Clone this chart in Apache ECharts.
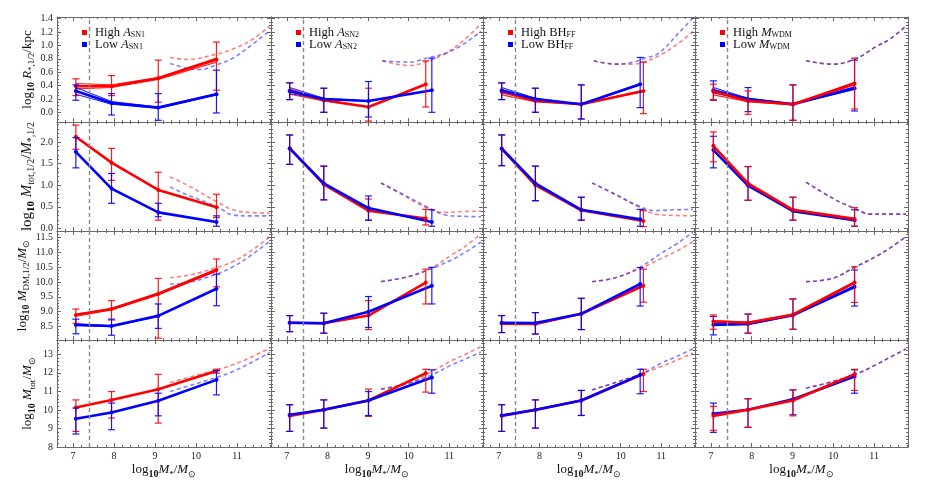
<!DOCTYPE html>
<html><head><meta charset="utf-8">
<script src="https://cdn.jsdelivr.net/npm/echarts@6/dist/echarts.min.js"></script>
<style>html,body{margin:0;padding:0;background:#fff}#c{width:927px;height:493px}</style>
</head><body><div id="c"></div><script>
// ---------------- DATA ----------------
const xTicks = [7, 8, 9, 10, 11];
const sizeTicks = [0, 0.2, 0.4, 0.6, 0.8, 1.0, 1.2, 1.4];
const ratioTicks = [0, 0.5, 1.0, 1.5, 2.0];
const dmTicks = [8.5, 9, 9.5, 10, 10.5, 11, 11.5];
const totTicks = [8, 9, 10, 11, 12, 13];
const resolutionLimit = [7.4];

const highNames = ['High A_SN1', 'High A_SN2', 'High BH_FF', 'High M_WDM'];
const lowNames = ['Low A_SN1', 'Low A_SN2', 'Low BH_FF', 'Low M_WDM'];

// x positions of the binned points, per column
const xRed = [[7.07, 7.94, 9.08, 10.5], [7.07, 7.91, 9.01, 10.42], [7.07, 7.9, 9.03, 10.56], [7.06, 7.91, 9.01, 10.52]];
const xBlue = [[7.07, 7.94, 9.08, 10.5], [7.07, 7.91, 9.01, 10.57], [7.07, 7.9, 9.03, 10.48], [7.06, 7.91, 9.01, 10.52]];

// each point: [median, lower error, upper error]
const sizeRed = [
  [[0.39, 0.25, 0.50], [0.39, 0.25, 0.55], [0.51, 0.15, 0.78], [0.79, 0.33, 1.05]],
  [[0.32, 0.19, 0.44], [0.18, 0.0, 0.36], [0.08, -0.13, 0.36], [0.42, 0.08, 0.77]],
  [[0.31, 0.19, 0.44], [0.17, 0.0, 0.36], [0.12, -0.1, 0.41], [0.32, -0.02, 0.75]],
  [[0.31, 0.19, 0.42], [0.17, -0.03, 0.32], [0.12, -0.12, 0.41], [0.43, 0.05, 0.81]]
];
const sizeBlue = [
  [[0.32, 0.18, 0.41], [0.14, -0.04, 0.28], [0.07, -0.12, 0.28], [0.27, -0.01, 0.63]],
  [[0.32, 0.19, 0.44], [0.20, 0.0, 0.36], [0.17, -0.07, 0.46], [0.33, 0.0, 0.81]],
  [[0.33, 0.19, 0.44], [0.20, 0.0, 0.36], [0.12, -0.1, 0.41], [0.42, 0.07, 0.82]],
  [[0.33, 0.18, 0.47], [0.20, 0.01, 0.37], [0.12, -0.12, 0.41], [0.36, 0.02, 0.78]]
];
const sizeRedLo = [[0.35, 0.37, 0.49, 0.75], [0.27, 0.17, 0.08, 0.42], [0.26, 0.16, 0.12, 0.31], [0.26, 0.16, 0.11, 0.41]];
const sizeRedHi = [[0.43, 0.41, 0.52, 0.81], [0.35, 0.19, 0.08, 0.42], [0.34, 0.18, 0.12, 0.33], [0.34, 0.18, 0.12, 0.45]];
const sizeBlueLo = [[0.27, 0.12, 0.06, 0.26], [0.28, 0.19, 0.17, 0.33], [0.29, 0.19, 0.12, 0.41], [0.29, 0.19, 0.12, 0.34]];
const sizeBlueHi = [[0.37, 0.16, 0.08, 0.28], [0.37, 0.21, 0.17, 0.33], [0.37, 0.21, 0.12, 0.43], [0.37, 0.21, 0.13, 0.38]];
const sizeRedModel = [
  [[9.37, 0.82], [9.77, 0.79], [10.5, 0.87], [11.0, 0.97], [11.4, 1.1], [11.8, 1.29]],
  [[9.35, 0.77], [10.0, 0.70], [10.5, 0.77], [10.9, 0.88], [11.3, 1.05], [11.78, 1.32]],
  [[9.34, 0.77], [9.87, 0.72], [10.3, 0.72], [10.6, 0.76], [10.93, 0.84], [11.42, 1.03], [11.78, 1.21]],
  [[9.33, 0.77], [9.98, 0.72], [10.55, 0.80], [11.04, 0.98], [11.4, 1.1], [11.78, 1.29]]
];
const sizeBlueModel = [
  [[9.37, 0.73], [9.77, 0.66], [10.1, 0.64], [10.5, 0.71], [10.9, 0.81], [11.3, 0.98], [11.8, 1.22]],
  [[9.35, 0.77], [10.0, 0.75], [10.5, 0.82], [10.9, 0.88], [11.3, 1.0], [11.78, 1.21]],
  [[9.34, 0.77], [9.87, 0.72], [10.3, 0.75], [10.6, 0.81], [10.93, 0.88], [11.42, 1.18], [11.78, 1.41]],
  [[9.33, 0.77], [9.98, 0.72], [10.55, 0.80], [11.04, 0.98], [11.4, 1.1], [11.78, 1.29]]
];

const ratioRed = [
  [[2.12, 1.83, 2.39], [1.52, 1.11, 1.85], [0.89, 0.19, 1.30], [0.49, 0.25, 0.79]],
  [[1.85, 1.48, 2.16], [1.02, 0.66, 1.44], [0.41, 0.19, 0.68], [0.23, 0.08, 0.44]],
  [[1.84, 1.45, 2.16], [1.00, 0.64, 1.44], [0.42, 0.19, 0.72], [0.17, 0.04, 0.41]],
  [[1.91, 1.54, 2.23], [1.04, 0.65, 1.43], [0.43, 0.19, 0.72], [0.22, 0.05, 0.48]]
];
const ratioBlue = [
  [[1.77, 1.40, 2.10], [0.92, 0.58, 1.27], [0.37, 0.27, 0.58], [0.15, 0.05, 0.29]],
  [[1.85, 1.48, 2.16], [1.04, 0.66, 1.44], [0.47, 0.19, 0.75], [0.15, 0.05, 0.43]],
  [[1.85, 1.45, 2.16], [1.04, 0.64, 1.44], [0.43, 0.19, 0.72], [0.21, 0.05, 0.44]],
  [[1.81, 1.40, 2.13], [0.99, 0.65, 1.43], [0.40, 0.19, 0.72], [0.19, 0.05, 0.43]]
];
const ratioRedModel = [
  [[9.37, 1.19], [9.77, 1.01], [10.5, 0.62], [10.9, 0.43], [11.3, 0.37], [11.8, 0.35]],
  [[9.32, 1.05], [9.84, 0.78], [10.41, 0.49], [10.9, 0.37], [11.3, 0.39], [11.78, 0.40]],
  [[9.3, 1.05], [9.87, 0.78], [10.44, 0.50], [10.85, 0.33], [11.3, 0.30], [11.78, 0.29]],
  [[9.33, 1.07], [9.98, 0.70], [10.5, 0.47], [10.92, 0.33], [11.3, 0.33], [11.78, 0.33]]
];
const ratioBlueModel = [
  [[9.37, 0.96], [9.77, 0.78], [10.5, 0.51], [10.9, 0.31], [11.3, 0.29], [11.8, 0.29]],
  [[9.32, 1.05], [9.84, 0.80], [10.41, 0.52], [10.9, 0.31], [11.3, 0.28], [11.78, 0.27]],
  [[9.3, 1.05], [9.87, 0.79], [10.44, 0.52], [10.85, 0.41], [11.3, 0.43], [11.78, 0.44]],
  [[9.33, 1.07], [9.98, 0.70], [10.5, 0.47], [10.92, 0.33], [11.3, 0.33], [11.78, 0.33]]
];

const dmRed = [
  [[8.89, 8.61, 9.09], [9.09, 8.72, 9.37], [9.60, 8.11, 10.12], [10.40, 9.84, 10.77]],
  [[8.63, 8.33, 8.87], [8.61, 8.28, 8.95], [8.87, 8.40, 9.37], [9.98, 9.26, 10.43]],
  [[8.60, 8.30, 8.87], [8.59, 8.25, 8.97], [8.93, 8.40, 9.45], [9.87, 9.32, 10.43]],
  [[8.67, 8.41, 8.89], [8.63, 8.28, 8.92], [8.90, 8.41, 9.43], [9.98, 9.31, 10.51]]
];
const dmBlue = [
  [[8.56, 8.26, 8.75], [8.52, 8.21, 8.75], [8.86, 8.44, 9.26], [9.77, 9.20, 10.26]],
  [[8.63, 8.33, 8.87], [8.61, 8.28, 8.95], [9.00, 8.47, 9.51], [9.87, 9.26, 10.49]],
  [[8.63, 8.30, 8.87], [8.62, 8.25, 8.97], [8.93, 8.40, 9.45], [9.93, 9.19, 10.48]],
  [[8.56, 8.22, 8.84], [8.59, 8.28, 8.92], [8.88, 8.41, 9.43], [9.84, 9.19, 10.40]]
];
const dmRedLo = [[8.85, 9.06, 9.56, 10.36], null, null, [8.64, 8.61, 8.89, 9.95]];
const dmRedHi = [[8.92, 9.11, 9.63, 10.43], null, null, [8.70, 8.65, 8.92, 10.0]];
const dmBlueLo = [[8.53, 8.50, 8.85, 9.76], null, null, [8.53, 8.57, 8.87, 9.80]];
const dmBlueHi = [[8.59, 8.53, 8.87, 9.78], null, null, [8.60, 8.61, 8.89, 9.87]];
const dmRedModel = [
  [[9.37, 10.14], [9.9, 10.25], [10.5, 10.48], [10.9, 10.68], [11.3, 11.0], [11.8, 11.52]],
  [[9.32, 10.01], [10.0, 10.18], [10.57, 10.48], [11.06, 10.91], [11.4, 11.2], [11.78, 11.62]],
  [[9.3, 10.01], [9.87, 10.14], [10.48, 10.45], [11.0, 10.79], [11.4, 11.05], [11.78, 11.35]],
  [[9.33, 10.01], [9.98, 10.12], [10.52, 10.49], [11.04, 10.85], [11.4, 11.15], [11.78, 11.52]]
];
const dmBlueModel = [
  [[9.37, 9.93], [9.77, 9.97], [10.5, 10.26], [10.9, 10.51], [11.3, 10.85], [11.8, 11.37]],
  [[9.32, 10.01], [10.0, 10.18], [10.57, 10.45], [11.06, 10.74], [11.4, 11.0], [11.78, 11.34]],
  [[9.3, 10.01], [9.87, 10.14], [10.48, 10.50], [11.0, 10.96], [11.4, 11.3], [11.78, 11.67]],
  [[9.33, 10.01], [9.98, 10.12], [10.52, 10.49], [11.04, 10.85], [11.4, 11.15], [11.78, 11.52]]
];

const totRed = [
  [[10.13, 8.84, 10.54], [10.54, 9.56, 10.99], [11.12, 9.29, 11.92], [12.10, 11.98, 12.19]],
  [[9.68, 8.84, 10.28], [10.01, 9.02, 10.54], [10.51, 9.65, 11.12], [11.98, 10.96, 12.19]],
  [[9.68, 8.84, 10.28], [10.00, 9.02, 10.54], [10.51, 9.70, 11.05], [11.93, 10.99, 12.19]],
  [[9.68, 8.90, 10.19], [10.01, 9.06, 10.60], [10.51, 9.68, 11.08], [11.93, 11.05, 12.19]]
];
const totBlue = [
  [[9.52, 8.70, 10.10], [9.86, 8.93, 10.37], [10.49, 9.68, 10.90], [11.62, 10.81, 12.12]],
  [[9.74, 8.84, 10.28], [10.01, 9.02, 10.54], [10.51, 9.70, 10.99], [11.75, 10.90, 12.16]],
  [[9.70, 8.84, 10.28], [10.01, 9.02, 10.54], [10.51, 9.70, 11.05], [11.89, 10.87, 12.19]],
  [[9.79, 8.79, 10.37], [10.01, 9.06, 10.60], [10.58, 9.74, 11.08], [11.80, 10.90, 12.16]]
];
const totRedModel = [
  [[9.37, 11.48], [9.9, 11.8], [10.5, 12.16], [10.9, 12.43], [11.3, 12.8], [11.8, 13.33]],
  [[9.32, 11.12], [10.0, 11.44], [10.57, 12.07], [11.06, 12.66], [11.4, 13.0], [11.78, 13.42]],
  [[9.3, 11.08], [9.87, 11.48], [10.48, 11.92], [11.0, 12.34], [11.4, 12.7], [11.78, 13.07]],
  [[9.33, 11.17], [9.98, 11.53], [10.52, 11.89], [11.04, 12.43], [11.4, 12.85], [11.78, 13.28]]
];
const totBlueModel = [
  [[9.37, 10.99], [9.77, 11.26], [10.5, 11.75], [10.9, 12.07], [11.3, 12.5], [11.8, 13.1]],
  [[9.32, 11.12], [10.0, 11.44], [10.57, 11.89], [11.06, 12.43], [11.4, 12.75], [11.78, 13.13]],
  [[9.3, 11.08], [9.87, 11.48], [10.48, 11.92], [11.0, 12.52], [11.4, 12.9], [11.78, 13.3]],
  [[9.33, 11.17], [9.98, 11.53], [10.52, 11.89], [11.04, 12.43], [11.4, 12.85], [11.78, 13.28]]
];

// ---------------- LAYOUT / STYLE ----------------
const FONT = 'Liberation Serif';
const FRAME = '#6a6a6a';
const RED = '#ff0000';
const BLUE = '#0000ff';
const colLeft = [57, 271, 483, 695];
const colWidth = [214, 212, 212, 213];
const rowTop = [17, 122, 231, 340];
const rowHeight = [105, 109, 109, 107];
const X_MIN = 6.61, X_MAX = 11.83;

function rich(fs) {
  const sub = Math.round(fs * 0.68);
  return {
    l: {fontFamily: FONT, fontSize: fs, lineHeight: fs + 5, color: '#111'},
    b: {fontFamily: FONT, fontSize: sub + 1, fontWeight: 'bold', lineHeight: sub + 2, verticalAlign: 'bottom', color: '#111'},
    i: {fontFamily: FONT, fontSize: fs, fontStyle: 'italic', lineHeight: fs + 5, color: '#111'},
    s: {fontFamily: FONT, fontSize: sub, lineHeight: sub + 1, verticalAlign: 'bottom', color: '#111'},
    n: {fontFamily: FONT, fontSize: fs, lineHeight: fs + 5, color: '#111'}
  };
}

const rowSpecs = [
  {red: sizeRed, blue: sizeBlue, redLo: sizeRedLo, redHi: sizeRedHi, blueLo: sizeBlueLo, blueHi: sizeBlueHi,
   redModel: sizeRedModel, blueModel: sizeBlueModel, ticks: sizeTicks, minorStep: 0.05, min: -0.145, max: 1.425, dec: 1,
   name: '{l|log}{b|10}{n| }{i|R}{s|*,1/2}{n|/kpc}', fs: 13, gap: 19},
  {red: ratioRed, blue: ratioBlue, redModel: ratioRedModel, blueModel: ratioBlueModel, ticks: ratioTicks, minorStep: 0.1,
   min: -0.06, max: 2.46, dec: 1, name: '{l|log}{b|10}{n| }{i|M}{s|tot,1/2}{n|/}{i|M}{s|*,1/2}', fs: 15, gap: 18},
  {red: dmRed, blue: dmBlue, redLo: dmRedLo, redHi: dmRedHi, blueLo: dmBlueLo, blueHi: dmBlueHi,
   redModel: dmRedModel, blueModel: dmBlueModel, ticks: dmTicks, minorStep: 0.1, min: 8.05, max: 11.71, dec: 1,
   name: '{l|log}{b|10}{n| }{i|M}{s|DM,1/2}{n|/}{i|M}{s|⊙}', fs: 13, gap: 20},
  {red: totRed, blue: totBlue, redModel: totRedModel, blueModel: totBlueModel, ticks: totTicks, minorStep: 0.2,
   min: 8.0, max: 13.77, dec: 0, name: '{l|log}{b|10}{n| }{i|M}{s|tot}{n|/}{i|M}{s|⊙}', fs: 13, gap: 20}
];
const xName = '{l|log}{b|10}{i|M}{s|*}{n|/}{i|M}{s|⊙}';
const legendFmt = {
  'High A_SN1': '{n|High }{i|A}{s|SN1}', 'Low A_SN1': '{n|Low }{i|A}{s|SN1}',
  'High A_SN2': '{n|High }{i|A}{s|SN2}', 'Low A_SN2': '{n|Low }{i|A}{s|SN2}',
  'High BH_FF': '{n|High BH}{s|FF}', 'Low BH_FF': '{n|Low BH}{s|FF}',
  'High M_WDM': '{n|High }{i|M}{s|WDM}', 'Low M_WDM': '{n|Low }{i|M}{s|WDM}'
};

function minorVals(min, max, step, majors) {
  const out = [];
  for (let k = Math.ceil(min / step - 1e-9); k * step <= max + 1e-9; k++) {
    const v = +(k * step).toFixed(4);
    if (!majors.some(m => Math.abs(m - v) < 1e-6)) out.push(v);
  }
  return out;
}

const grids = [], xAxes = [], yAxes = [], series = [], legends = [];

function errSeries(g, xs, pts, color) {
  return {
    type: 'custom', xAxisIndex: g * 4, yAxisIndex: g * 4, silent: true, z: 4,
    data: pts.map((p, i) => [xs[i], p[1], p[2]]),
    encode: {x: 0, y: [1, 2]},
    renderItem: (params, api) => {
      const x = api.value(0);
      const a = api.coord([x, api.value(1)]);
      const b = api.coord([x, api.value(2)]);
      const w = 3.5;
      const st = {stroke: color, lineWidth: 1.2, opacity: 0.9};
      return {type: 'group', children: [
        {type: 'line', shape: {x1: a[0], y1: a[1], x2: b[0], y2: b[1]}, style: st},
        {type: 'line', shape: {x1: a[0] - w, y1: a[1], x2: a[0] + w, y2: a[1]}, style: st},
        {type: 'line', shape: {x1: b[0] - w, y1: b[1], x2: b[0] + w, y2: b[1]}, style: st}
      ]};
    }
  };
}

function colorSeries(g, r, c, which) {
  const spec = rowSpecs[r];
  const color = which === 'red' ? RED : BLUE;
  const xs = which === 'red' ? xRed[c] : xBlue[c];
  const pts = spec[which][c];
  const out = [];
  const lo = spec[which + 'Lo'], hi = spec[which + 'Hi'];
  [lo, hi].forEach(arr => {
    if (arr && arr[c]) {
      out.push({type: 'line', xAxisIndex: g * 4, yAxisIndex: g * 4, silent: true, z: 2,
        data: arr[c].map((v, i) => [xs[i], v]), symbol: 'none',
        lineStyle: {color, width: 1.1, opacity: 0.85}});
    }
  });
  const main = {type: 'line', xAxisIndex: g * 4, yAxisIndex: g * 4, silent: true, z: 3,
    data: pts.map((p, i) => [xs[i], p[0]]), symbol: 'circle', symbolSize: 4, showSymbol: true,
    itemStyle: {color}, lineStyle: {color, width: 2.6}};
  if (r === 0) main.name = which === 'red' ? highNames[c] : lowNames[c];
  out.push(main);
  out.push(errSeries(g, xs, pts, color));
  return out;
}

for (let r = 0; r < 4; r++) {
  for (let c = 0; c < 4; c++) {
    const g = r * 4 + c;
    const spec = rowSpecs[r];
    grids.push({left: colLeft[c], top: rowTop[r], width: colWidth[c], height: rowHeight[r], containLabel: false});
    const xMinor = minorVals(X_MIN, X_MAX, 0.2, xTicks);
    const yMinor = minorVals(spec.min, spec.max, spec.minorStep, spec.ticks);
    const line = {show: true, onZero: false, lineStyle: {color: FRAME, width: 1}};
    const noLine = {show: false, onZero: false};
    const tick = (vals, len) => ({show: true, inside: true, length: len, customValues: vals, lineStyle: {color: FRAME, width: 1}});
    const bx = {gridIndex: g, type: 'value', min: X_MIN, max: X_MAX, splitLine: {show: false}, silent: true};
    xAxes.push(Object.assign({}, bx, {
      position: 'bottom', axisLine: line, axisTick: tick(xTicks, 4),
      axisLabel: {show: r === 3, customValues: xTicks, margin: 4, fontFamily: FONT, fontSize: 10, color: '#222'},
      name: r === 3 ? xName : '', nameLocation: 'middle', nameGap: 14,
      nameTextStyle: {fontFamily: FONT, fontSize: 13, rich: rich(13)}
    }));
    xAxes.push(Object.assign({}, bx, {position: 'top', axisLine: line, axisTick: tick(xTicks, 4), axisLabel: {show: false}}));
    xAxes.push(Object.assign({}, bx, {position: 'bottom', axisLine: noLine, axisTick: tick(xMinor, 2), axisLabel: {show: false}}));
    xAxes.push(Object.assign({}, bx, {position: 'top', axisLine: noLine, axisTick: tick(xMinor, 2), axisLabel: {show: false}}));
    const by = {gridIndex: g, type: 'value', min: spec.min, max: spec.max, splitLine: {show: false}, silent: true};
    yAxes.push(Object.assign({}, by, {
      position: 'left', axisLine: line, axisTick: tick(spec.ticks, 4),
      axisLabel: {show: c === 0, customValues: spec.ticks, margin: 4, fontFamily: FONT, fontSize: 10, color: '#222',
        formatter: v => Number(v).toFixed(spec.dec)},
      name: c === 0 ? spec.name : '', nameLocation: 'middle', nameRotate: 90, nameGap: spec.gap,
      nameTextStyle: {fontFamily: FONT, fontSize: spec.fs, rich: rich(spec.fs)}
    }));
    yAxes.push(Object.assign({}, by, {position: 'right', axisLine: line, axisTick: tick(spec.ticks, 4), axisLabel: {show: false}}));
    yAxes.push(Object.assign({}, by, {position: 'left', axisLine: noLine, axisTick: tick(yMinor, 2), axisLabel: {show: false}}));
    yAxes.push(Object.assign({}, by, {position: 'right', axisLine: noLine, axisTick: tick(yMinor, 2), axisLabel: {show: false}}));

    // model curves (dashed)
    [['red', RED], ['blue', BLUE]].forEach(([w, col], k) => {
      const s = {type: 'line', xAxisIndex: g * 4, yAxisIndex: g * 4, silent: true, z: 1,
        data: spec[w + 'Model'][c], smooth: 0.4, symbol: 'none',
        lineStyle: {color: col, width: 1.6, type: [4, 3], opacity: 0.5}};
      if (k === 0) {
        s.markLine = {silent: true, symbol: ['none', 'none'], label: {show: false},
          lineStyle: {color: '#888', type: [4, 3], width: 1.4, opacity: 1}, emphasis: {disabled: true},
          data: [{xAxis: resolutionLimit[0]}]};
      }
      series.push(s);
    });
    const order = c === 3 ? ['blue', 'red'] : ['red', 'blue'];
    order.forEach(w => colorSeries(g, r, c, w).forEach(s => series.push(s)));
  }
}

for (let c = 0; c < 4; c++) {
  legends.push({
    left: colLeft[c] + 20, top: 21, orient: 'vertical', icon: 'rect', itemWidth: 5, itemHeight: 5, itemGap: -1,
    data: [highNames[c], lowNames[c]], selectedMode: false,
    formatter: n => legendFmt[n],
    textStyle: {fontFamily: FONT, fontSize: 12, padding: [0, 0, 0, 3],
      rich: {
        n: {fontFamily: FONT, fontSize: 12.5, lineHeight: 12, color: '#111'},
        i: {fontFamily: FONT, fontSize: 12.5, fontStyle: 'italic', lineHeight: 12, color: '#111'},
        s: {fontFamily: FONT, fontSize: 8, lineHeight: 7, verticalAlign: 'bottom', color: '#111'}
      }}
  });
}

const chart = echarts.init(document.getElementById('c'));
chart.setOption({
  animation: false,
  backgroundColor: '#fff',
  grid: grids, xAxis: xAxes, yAxis: yAxes, series, legend: legends
});
</script></body></html>
